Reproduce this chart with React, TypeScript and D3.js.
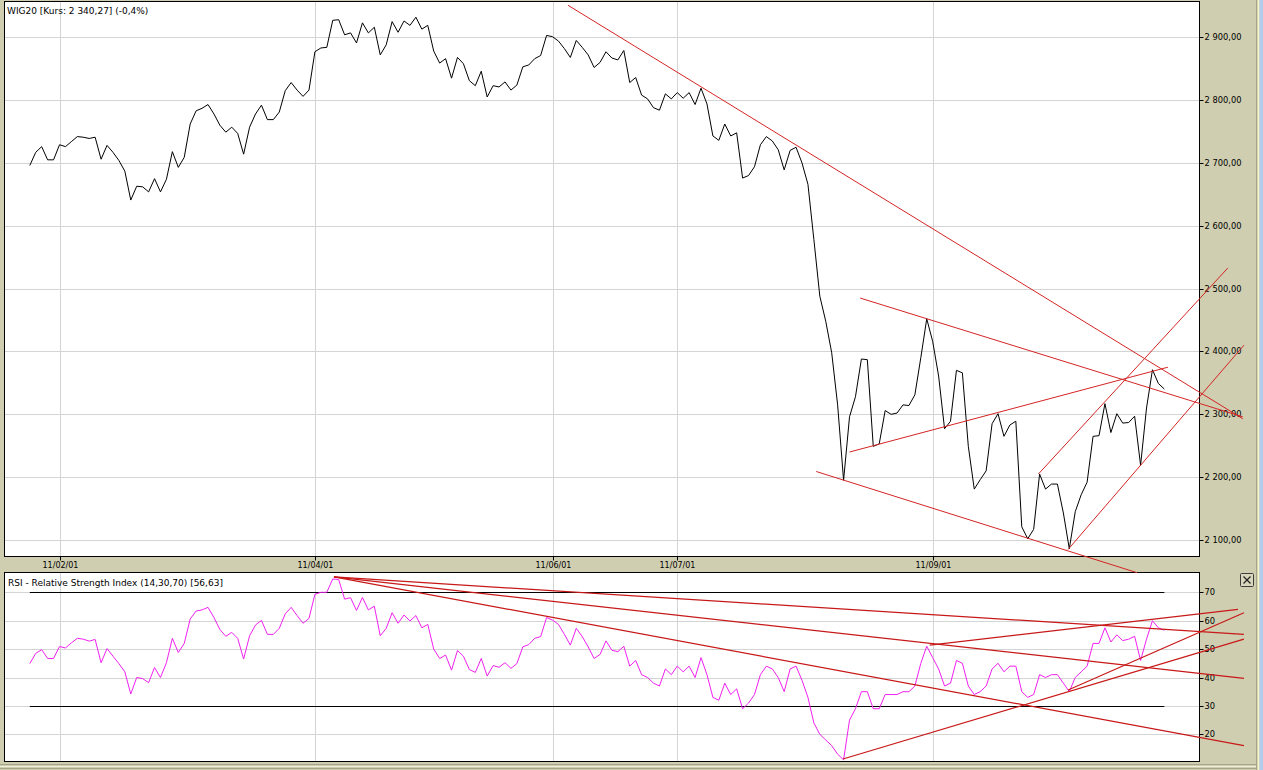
import React from "react";
import * as d3 from "d3";

// WIG20 daily close, 25 Jan 2011 .. 26 Oct 2011 (index = trading day)
const closes = [
  2696, 2717, 2726, 2705, 2705, 2729, 2726, 2734, 2742, 2741,
  2739, 2741, 2706, 2728, 2717, 2704, 2687, 2641, 2663, 2662,
  2654, 2675, 2654, 2674, 2718, 2693, 2709, 2762, 2783, 2787,
  2793, 2778, 2760, 2749, 2757, 2747, 2714, 2757, 2778, 2792,
  2769, 2769, 2781, 2815, 2828, 2816, 2806, 2816, 2877, 2883,
  2884, 2927, 2928, 2904, 2907, 2891, 2923, 2907, 2916, 2872,
  2888, 2925, 2908, 2926, 2919, 2932, 2913, 2919, 2878, 2859,
  2866, 2835, 2868, 2858, 2831, 2823, 2846, 2805, 2823, 2821,
  2829, 2816, 2824, 2853, 2856, 2866, 2871, 2903, 2901, 2894,
  2882, 2868, 2895, 2884, 2872, 2852, 2860, 2877, 2867, 2864,
  2879, 2828, 2836, 2808, 2802, 2788, 2784, 2810, 2802, 2812,
  2803, 2812, 2793, 2819, 2794, 2743, 2736, 2762, 2743, 2748,
  2676, 2680, 2694, 2729, 2742, 2735, 2721, 2689, 2720, 2725,
  2700, 2666, 2578, 2488, 2448, 2398, 2315, 2195, 2296, 2328,
  2388, 2387, 2249, 2253, 2306, 2300, 2302, 2315, 2314, 2331,
  2390, 2452, 2416, 2361, 2277, 2289, 2370, 2366, 2249, 2181,
  2196, 2210, 2285, 2301, 2265, 2283, 2289, 2121, 2102, 2117,
  2205, 2181, 2189, 2189, 2143, 2086, 2145, 2172, 2192, 2265,
  2266, 2317, 2271, 2301, 2286, 2287, 2297, 2219, 2310, 2371,
  2349, 2340.27,
];

// RSI(14)
const rsiValues = [
  44.9, 48.5, 49.8, 46.7, 46.7, 50.9, 50.4, 52.2, 53.8, 53.5,
  52.8, 53.4, 45.2, 50.2, 47.5, 44.9, 42.0, 34.2, 40.0, 39.6,
  38.2, 43.5, 40.0, 45.2, 53.8, 48.8, 52.0, 60.6, 63.4, 63.8,
  64.7, 61.1, 56.9, 54.5, 55.9, 53.8, 46.5, 54.7, 58.5, 60.1,
  55.2, 55.2, 57.3, 62.4, 64.7, 61.8, 59.1, 60.8, 69.3, 70.0,
  70.0, 74.7, 74.5, 67.6, 68.1, 63.6, 68.2, 63.8, 65.1, 54.7,
  57.3, 62.8, 59.1, 62.0, 59.9, 61.8, 57.5, 58.7, 50.0, 46.7,
  47.9, 42.6, 49.5, 47.5, 42.8, 41.8, 46.7, 40.5, 44.2, 43.6,
  45.2, 43.2, 44.9, 50.8, 51.6, 53.8, 54.4, 61.1, 60.2, 58.7,
  55.2, 51.4, 57.3, 54.4, 50.8, 46.7, 48.1, 52.9, 49.6, 49.1,
  51.0, 44.0, 46.0, 41.0, 40.0, 38.0, 37.0, 43.0, 41.0, 44.0,
  42.0, 44.0, 40.0, 47.0, 41.0, 33.0, 32.0, 38.0, 34.0, 36.0,
  29.0, 31.0, 34.0, 41.0, 44.0, 43.0, 40.0, 35.0, 43.0, 44.0,
  39.0, 33.0, 24.0, 20.0, 18.0, 16.0, 13.0, 11.0, 25.0, 29.0,
  35.0, 35.0, 29.0, 29.0, 34.0, 34.0, 34.0, 35.0, 35.0, 37.0,
  45.0, 51.0, 47.0, 43.0, 37.0, 38.0, 46.0, 45.0, 37.0, 34.0,
  35.0, 37.0, 43.0, 45.0, 42.0, 44.0, 44.0, 35.0, 33.0, 34.0,
  41.0, 40.0, 41.0, 41.0, 38.0, 35.0, 40.0, 42.0, 44.0, 52.0,
  52.0, 57.5, 52.5, 55.0, 53.0, 53.5, 54.5, 46.0, 53.5, 60.0,
  57.5, 56.63,
];

const dateTickIndex = [5, 48, 88, 109, 152];
const dateTickLabels = ["11/02/01", "11/04/01", "11/06/01", "11/07/01", "11/09/01"];
const priceTicks = [2100, 2200, 2300, 2400, 2500, 2600, 2700, 2800, 2900];
const rsiTicks = [20, 30, 40, 50, 60, 70];
const rsiBands = [30, 70];

// hand drawn trend lines: [index0, value0, index1, value1]
const priceTrendLines = [
  [90.6, 2951, 204.2, 2293],
  [139.8, 2485, 204.2, 2296],
  [138.0, 2240, 191.6, 2375],
  [132.4, 2209, 186.4, 2048],
  [169.8, 2205, 201.7, 2533],
  [174.8, 2085, 204.4, 2410],
];
const rsiTrendLines = [
  [51.2, 75.4, 204.4, 55.2],
  [51.2, 75.4, 204.4, 39.7],
  [51.2, 75.4, 204.4, 16.0],
  [136.9, 11.3, 204.4, 53.5],
  [151.5, 51.4, 203.4, 64.0],
  [174.8, 35.6, 204.4, 62.8],
];

const W = 1263;
const H = 770;
const FONT = "DejaVu Sans, Tahoma, sans-serif";
const GRID = "#d4d4d4";
const TREND = "#d42424";

const fmt = d3.formatLocale({
  decimal: ",",
  thousands: " ",
  grouping: [3],
  currency: ["", ""],
}).format(",.2f");

const App: React.FC = () => {
  const left = 4.5;
  const right = 1199.5;
  const pTop = 1.5;
  const pBottom = 556.5;
  const rTop = 572.5;
  const rBottom = 761.5;

  const x = d3.scaleLinear().domain([0, closes.length - 1]).range([29.8, 29.8 + (closes.length - 1) * 5.94]);
  const yP = d3.scaleLinear().domain([2100, 2900]).range([540, 37.3]);
  const yR = d3.scaleLinear().domain([20, 70]).range([734.3, 592.3]);

  const priceLine = d3.line<number>().x((_, i) => x(i)).y((d) => yP(d));
  const rsiLine = d3.line<number>().x((_, i) => x(i)).y((d) => yR(d));

  return (
    <svg
      width={W}
      height={H}
      style={{ position: "absolute", left: 0, top: 0, display: "block" }}
      fontFamily={FONT}
    >
      <rect x={0} y={0} width={W} height={H} fill="#cfceb0" />
      {/* right window edge */}
      <rect x={1256} y={0} width={1.5} height={H} fill="#a6a58c" />
      <rect x={1257.5} y={0} width={2} height={H} fill="#f4f3c8" />
      <rect x={1259.5} y={0} width={4} height={H} fill="#b3cbec" />
      <line x1={0} x2={1256} y1={764.5} y2={764.5} stroke="#a6a58c" />
      <line x1={0} x2={1256} y1={766.5} y2={766.5} stroke="#efeed8" />
      <line x1={0} x2={1256} y1={768.5} y2={768.5} stroke="#a6a58c" />

      {/* price panel */}
      <rect x={left} y={pTop} width={right - left} height={pBottom - pTop} fill="#fff" />
      {priceTicks.map((t) => (
        <line key={t} x1={left} x2={right} y1={Math.round(yP(t)) + 0.5} y2={Math.round(yP(t)) + 0.5} stroke={GRID} />
      ))}
      {dateTickIndex.map((d) => (
        <line key={d} x1={Math.round(x(d)) + 0.5} x2={Math.round(x(d)) + 0.5} y1={pTop} y2={pBottom} stroke={GRID} />
      ))}
      <path d={priceLine(closes) || ""} fill="none" stroke="#000" strokeWidth={1} />
      <rect x={left} y={pTop} width={right - left} height={pBottom - pTop} fill="none" stroke="#000" />
      <text x={7} y={14} fontSize={9} fill="#000">
        WIG20 [Kurs: 2 340,27] (-0,4%)
      </text>
      {priceTicks.map((t) => (
        <g key={t} transform={`translate(${right},${Math.round(yP(t)) + 0.5})`}>
          <line x1={0} x2={4} stroke="#000" />
          <text x={5} dy="0.35em" fontSize={8.3} fill="#000">
            {fmt(t)}
          </text>
        </g>
      ))}
      {dateTickIndex.map((d, k) => (
        <g key={d} transform={`translate(${Math.round(x(d)) + 0.5},${pBottom})`}>
          <line y1={0} y2={4} stroke="#000" />
          <text y={11.5} textAnchor="middle" fontSize={8} fill="#000">
            {dateTickLabels[k]}
          </text>
        </g>
      ))}

      {/* RSI panel */}
      <rect x={left} y={rTop} width={right - left} height={rBottom - rTop} fill="#fff" />
      {rsiTicks.map((t) => (
        <line key={t} x1={left} x2={right} y1={Math.round(yR(t)) + 0.5} y2={Math.round(yR(t)) + 0.5} stroke={GRID} />
      ))}
      {dateTickIndex.map((d) => (
        <line key={d} x1={Math.round(x(d)) + 0.5} x2={Math.round(x(d)) + 0.5} y1={rTop} y2={rBottom} stroke={GRID} />
      ))}
      {rsiBands.map((b) => (
        <line
          key={b}
          x1={x(0)}
          x2={x(closes.length - 1)}
          y1={Math.round(yR(b)) + 0.5}
          y2={Math.round(yR(b)) + 0.5}
          stroke="#000"
        />
      ))}
      <path d={rsiLine(rsiValues) || ""} fill="none" stroke="#f020f0" strokeWidth={1} />
      <rect x={left} y={rTop} width={right - left} height={rBottom - rTop} fill="none" stroke="#000" />
      <text x={8} y={586} fontSize={9} fill="#000">
        RSI - Relative Strength Index (14,30,70) [56,63]
      </text>
      {rsiTicks.map((t) => (
        <g key={t} transform={`translate(${right},${Math.round(yR(t)) + 0.5})`}>
          <line x1={0} x2={4} stroke="#000" />
          <text x={5} dy="0.35em" fontSize={8.3} fill="#000">
            {t}
          </text>
        </g>
      ))}

      {/* trend lines */}
      {priceTrendLines.map((l, k) => (
        <line key={k} x1={x(l[0])} y1={yP(l[1])} x2={x(l[2])} y2={yP(l[3])} stroke={TREND} strokeWidth={1} />
      ))}
      {rsiTrendLines.map((l, k) => (
        <line key={k} x1={x(l[0])} y1={yR(l[1])} x2={x(l[2])} y2={yR(l[3])} stroke="#c81818" strokeWidth={1.2} />
      ))}

      {/* close button */}
      <rect x={1240.5} y={573.5} width={13} height={13} fill="#d8d7bc" stroke="#3c3c3c" rx={1} />
      <path d="M1243.5,576.5 L1250.5,583.5 M1250.5,576.5 L1243.5,583.5" stroke="#222" strokeWidth={1.2} />
    </svg>
  );
};

export default App;
